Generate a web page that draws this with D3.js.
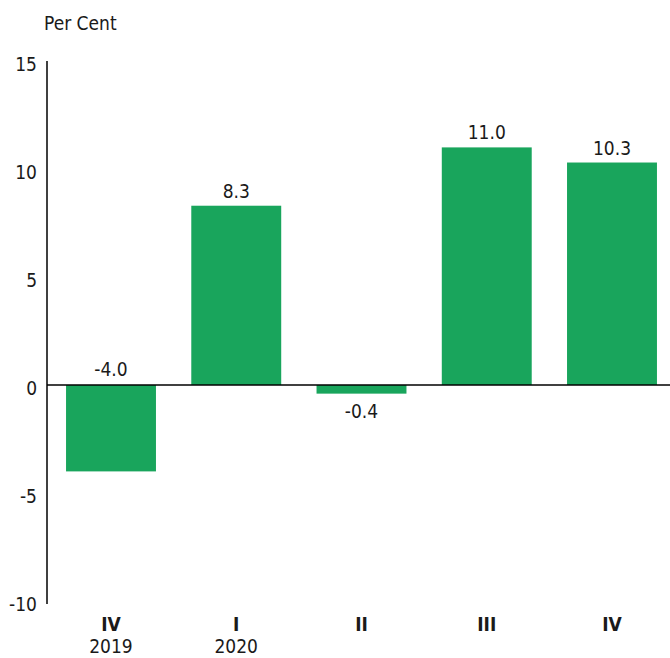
<!DOCTYPE html>
<meta charset="utf-8">
<script src="https://d3js.org/d3.v7.min.js"></script>
<style>
  body { margin: 0; background: #fff; }
  text { font-family: "DejaVu Sans Condensed", "Liberation Sans Narrow", "Roboto", sans-serif; fill: #1a1a1a; }
</style>
<svg id="chart" width="670" height="658"></svg>
<script>
// quarters and their growth, per cent
var quarters = ["IV", "I", "II", "III", "IV"];
var years = ["2019", "2020", "", "", ""];
var growth = [-4.0, 8.3, -0.4, 11.0, 10.3];
var yTicks = [15, 10, 5, 0, -5, -10];

var svg = d3.select("#chart");
var plotLeft = 47, plotRight = 676, plotTop = 61, plotBottom = 601;

var x = d3.scaleBand()
    .domain(d3.range(quarters.length))
    .range([plotLeft, plotRight])
    .paddingInner(0.282)
    .paddingOuter(0.152);

var y = d3.scaleLinear()
    .domain([-10, 15])
    .range([plotBottom, plotTop]);

// y axis line + tick labels
svg.append("line")
    .attr("x1", plotLeft).attr("x2", plotLeft)
    .attr("y1", y(15)).attr("y2", y(-10) + 3)
    .attr("stroke", "#000").attr("stroke-width", 1.5);

svg.append("g")
  .selectAll("text")
  .data(yTicks)
  .enter()
  .append("text")
    .attr("x", 37)
    .attr("y", function(d){ return y(d) + 4; })
    .attr("text-anchor", "end")
    .attr("dominant-baseline", "middle")
    .style("font-size", "19px")
    .text(function(d){ return d; });

svg.append("text")
    .attr("x", 44).attr("y", 24)
    .attr("dominant-baseline", "middle")
    .style("font-size", "19px")
    .text("Per Cent");

// bars
svg.append("g")
  .selectAll("rect")
  .data(growth)
  .enter()
  .append("rect")
    .attr("x", function(d, i){ return x(i); })
    .attr("width", x.bandwidth())
    .attr("y", function(d){ return y(Math.max(0, d)); })
    .attr("height", function(d){ return Math.abs(y(d) - y(0)); })
    .attr("fill", "#19a55c");

// zero line
svg.append("line")
    .attr("x1", plotLeft).attr("x2", 670)
    .attr("y1", y(0)).attr("y2", y(0))
    .attr("stroke", "#000").attr("stroke-width", 1.5);

// value labels
svg.append("g")
  .selectAll("text")
  .data(growth)
  .enter()
  .append("text")
    .attr("x", function(d, i){ return x(i) + x.bandwidth() / 2; })
    .attr("y", function(d){
        if (d >= 0) return y(d) - 8;
        if (d < -1) return y(0) - 9;   // big negative bar: label sits above zero
        return y(d) + 24;
    })
    .attr("text-anchor", "middle")
    .style("font-size", "19px")
    .text(function(d){ return d.toFixed(1); });

// quarter labels
svg.append("g")
  .selectAll("text")
  .data(quarters)
  .enter()
  .append("text")
    .attr("x", function(d, i){ return x(i) + x.bandwidth() / 2; })
    .attr("y", 631)
    .attr("text-anchor", "middle")
    .style("font-size", "19px")
    .style("font-weight", "bold")
    .text(function(d){ return d; });

svg.append("g")
  .selectAll("text")
  .data(years)
  .enter()
  .append("text")
    .attr("x", function(d, i){ return x(i) + x.bandwidth() / 2; })
    .attr("y", 653)
    .attr("text-anchor", "middle")
    .style("font-size", "19px")
    .text(function(d){ return d; });
</script>
